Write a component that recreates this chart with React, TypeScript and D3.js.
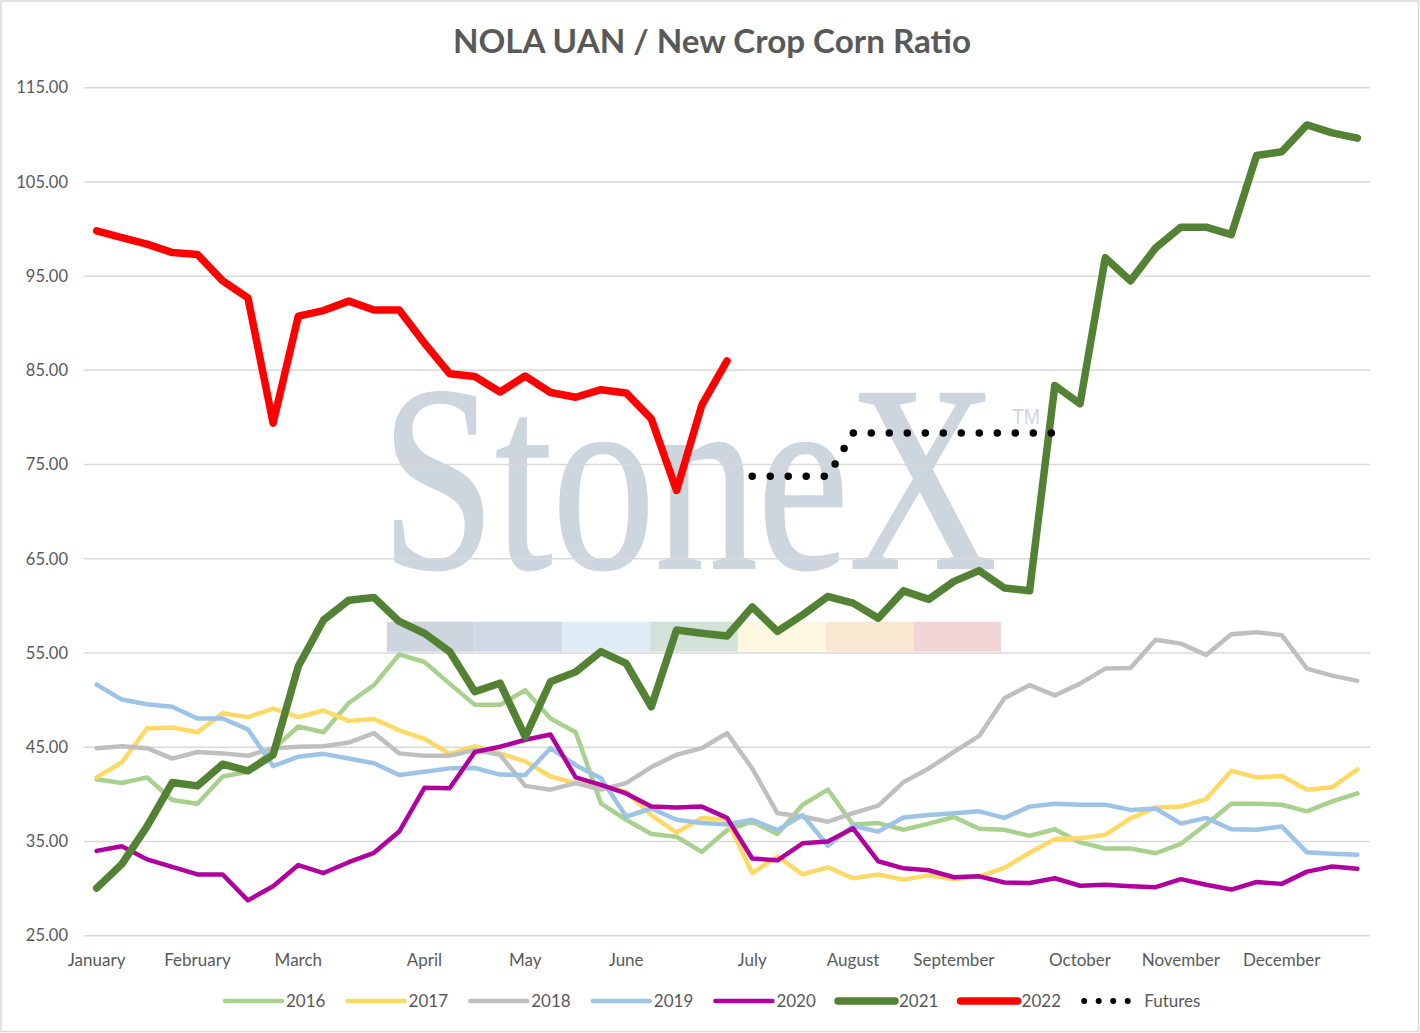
import React from "react";
import * as d3 from "d3";

const WIDTH = 1420;
const HEIGHT = 1033;

const monthLabels = ["January", "February", "March", "April", "May", "June", "July", "August", "September", "October", "November", "December"];
const monthWeek = [0, 4, 8, 13, 17, 21, 26, 30, 34, 39, 43, 47];
const yTicks = [25, 35, 45, 55, 65, 75, 85, 95, 105, 115];

const s2016 = [41.6, 41.2, 41.8, 39.4, 39.0, 41.9, 42.4, 44.8, 47.2, 46.6, 49.7, 51.6, 54.85, 54.05, 51.75, 49.5, 49.5, 51.05, 48.05, 46.6, 39.05, 37.3, 35.8, 35.5, 33.9, 36.2, 37.1, 35.8, 38.9, 40.5, 36.8, 36.95, 36.25, 36.9, 37.6, 36.35, 36.25, 35.6, 36.3, 34.9, 34.25, 34.25, 33.75, 34.75, 36.8, 39.0, 39.0, 38.9, 38.2, 39.25, 40.1];
const s2017 = [41.8, 43.4, 47.0, 47.1, 46.6, 48.6, 48.2, 49.1, 48.2, 48.9, 47.8, 48.0, 46.8, 45.9, 44.3, 45.1, 44.35, 43.5, 41.9, 41.2, 40.8, 40.3, 37.8, 35.95, 37.5, 37.3, 31.65, 33.4, 31.5, 32.25, 31.1, 31.5, 30.95, 31.4, 31.0, 31.3, 32.2, 33.8, 35.25, 35.35, 35.7, 37.45, 38.6, 38.7, 39.5, 42.5, 41.8, 41.95, 40.5, 40.75, 42.65];
const s2018 = [44.9, 45.1, 44.9, 43.8, 44.5, 44.35, 44.1, 44.9, 45.05, 45.1, 45.5, 46.5, 44.35, 44.1, 44.1, 44.7, 44.2, 40.9, 40.5, 41.2, 40.5, 41.2, 42.9, 44.2, 44.9, 46.5, 42.75, 38.0, 37.65, 37.1, 38.0, 38.8, 41.3, 42.75, 44.5, 46.2, 50.2, 51.6, 50.5, 51.75, 53.35, 53.4, 56.4, 56.0, 54.8, 57.0, 57.2, 56.9, 53.35, 52.6, 52.05];
const s2019 = [51.65, 50.06, 49.57, 49.3, 48.05, 48.05, 46.9, 43.0, 44.0, 44.3, 43.8, 43.3, 42.05, 42.4, 42.76, 42.8, 42.1, 42.05, 44.9, 43.1, 41.7, 37.65, 38.5, 37.3, 36.95, 36.8, 37.3, 36.2, 37.8, 34.55, 36.65, 36.05, 37.55, 37.8, 38.0, 38.2, 37.5, 38.7, 39.0, 38.9, 38.9, 38.35, 38.5, 36.9, 37.5, 36.3, 36.25, 36.6, 33.85, 33.7, 33.6];
const s2020 = [34.0, 34.5, 33.1, 32.3, 31.5, 31.5, 28.75, 30.25, 32.5, 31.65, 32.8, 33.8, 36.05, 40.7, 40.65, 44.5, 45.05, 45.8, 46.35, 41.8, 41.0, 40.1, 38.7, 38.6, 38.7, 37.5, 33.2, 33.0, 34.8, 35.0, 36.4, 32.9, 32.15, 31.95, 31.2, 31.3, 30.65, 30.6, 31.1, 30.3, 30.4, 30.25, 30.15, 31.0, 30.4, 29.9, 30.7, 30.5, 31.8, 32.35, 32.1];
const s2021 = [30.05, 32.6, 36.6, 41.25, 40.9, 43.2, 42.5, 44.2, 53.6, 58.5, 60.6, 60.9, 58.35, 57.1, 55.15, 50.9, 51.8, 46.1, 51.95, 53.0, 55.15, 53.9, 49.3, 57.45, 57.1, 56.8, 59.9, 57.3, 59.05, 61.0, 60.3, 58.7, 61.6, 60.7, 62.6, 63.75, 61.9, 61.6, 83.4, 81.45, 96.95, 94.5, 98.0, 100.2, 100.2, 99.4, 107.8, 108.2, 111.05, 110.2, 109.65];
const s2022 = [99.8, 99.1, 98.4, 97.5, 97.3, 94.5, 92.7, 79.4, 90.75, 91.35, 92.35, 91.4, 91.4, 87.9, 84.65, 84.35, 82.7, 84.4, 82.65, 82.15, 82.95, 82.6, 79.85, 72.25, 81.3, 86.0];
const futures = [null, null, null, null, null, null, null, null, null, null, null, null, null, null, null, null, null, null, null, null, null, null, null, null, null, null, 73.75, 73.75, 73.75, 73.75, 78.35, 78.35, 78.35, 78.35, 78.35, 78.35, 78.35, 78.35, 78.35];

const seriesNames = ["2016", "2017", "2018", "2019", "2020", "2021", "2022"];
const seriesValues: (number | null)[][] = [s2016, s2017, s2018, s2019, s2020, s2021, s2022];
const seriesColors = ["#A9D18E", "#FFD966", "#BFBFBF", "#9DC3E6", "#B0009E", "#548235", "#FF0000"];
const seriesWidths = [4.5, 4.5, 4.5, 4.5, 4.5, 7.5, 7.5];

const watermarkBands = ["#CED5DE", "#CFDAE6", "#E0ECF5", "#D3E2D9", "#FBF8DF", "#F9E7D1", "#F1D4D6"];

const FONT = "Lato, 'Open Sans', sans-serif";
const TEXT = "#595959";

export default function App() {
  const left = 84, right = 1370, top = 87.7, bottom = 935.7;
  const weeks = s2021.map((_, i) => i);
  const x = d3.scalePoint<number>().domain(weeks).range([left, right]).padding(0.5);
  const y = d3.scaleLinear().domain([25, 115]).range([bottom, top]);
  const line = d3
    .line<number | null>()
    .defined((d) => d != null)
    .x((_, i) => x(i) as number)
    .y((d) => y(d as number));

  const bandX = d3.scaleBand<number>().domain(d3.range(watermarkBands.length)).range([387, 1001]);

  const legendStart = 225;
  const legendStep = 122.6;

  return (
    <svg
      width={WIDTH}
      height={HEIGHT}
      style={{ position: "absolute", left: 0, top: 0, display: "block", background: "#fff" }}
      fontFamily={FONT}
    >
      <rect x={1} y={1} width={WIDTH - 2.5} height={HEIGHT - 2.5} fill="#fff" stroke="#D9D9D9" strokeWidth={1.5} />
      <text x={712} y={53} textAnchor="middle" fontSize={32} fontWeight="bold" fill={TEXT} textLength={518} lengthAdjust="spacingAndGlyphs">
        NOLA UAN / New Crop Corn Ratio
      </text>

      {/* watermark */}
      <g>
        <g transform="translate(381,568) scale(0.772,1)">
          <text
            x={0}
            y={0}
            fontFamily="'Liberation Serif', 'DejaVu Serif', serif"
            fontSize={266}
            fill="#CDD5DF"
            stroke="#CDD5DF"
            strokeWidth={2}
          >
            StoneX
          </text>
        </g>
        <text x={1012} y={424} fontFamily="'Liberation Sans', sans-serif" fontSize={22} fill="#CDD5DF" textLength={28} lengthAdjust="spacingAndGlyphs">
          TM
        </text>
        {watermarkBands.map((c, i) => (
          <rect key={i} x={bandX(i)} y={621.7} width={bandX.bandwidth()} height={30} fill={c} />
        ))}
      </g>

      {/* gridlines */}
      {yTicks.map((t) => (
        <line key={t} x1={left} x2={right} y1={y(t)} y2={y(t)} stroke="#D9D9D9" strokeWidth={1.5} />
      ))}
      {yTicks.map((t) => (
        <text key={"l" + t} x={68} y={y(t)} dy="0.35em" textAnchor="end" fontSize={16.5} fill={TEXT}>
          {t.toFixed(2)}
        </text>
      ))}
      {monthLabels.map((m, i) => (
        <text key={m} x={x(monthWeek[i]) as number} y={966} textAnchor="middle" fontSize={17} fill={TEXT}>
          {m}
        </text>
      ))}

      {/* series */}
      {seriesValues.map((vals, si) => (
        <path
          key={seriesNames[si]}
          d={line(vals) || ""}
          fill="none"
          stroke={seriesColors[si]}
          strokeWidth={seriesWidths[si]}
          strokeLinejoin="round"
          strokeLinecap="round"
        />
      ))}
      <path
        d={line(futures) || ""}
        fill="none"
        stroke="#000"
        strokeWidth={7.5}
        strokeLinecap="round"
        strokeDasharray="0 18"
      />

      {/* legend */}
      {seriesNames.map((n, i) => {
        const lx = legendStart + i * legendStep;
        return (
          <g key={"lg" + n}>
            <line x1={lx} x2={lx + 57} y1={1001} y2={1001} stroke={seriesColors[i]} strokeWidth={seriesWidths[i]} strokeLinecap="round" />
            <text x={lx + 61} y={1001} dy="0.35em" fontSize={17} fill={TEXT}>
              {n}
            </text>
          </g>
        );
      })}
      <g>
        <line
          x1={legendStart + 7 * legendStep + 1}
          x2={legendStart + 7 * legendStep + 46}
          y1={1001}
          y2={1001}
          stroke="#000"
          strokeWidth={6}
          strokeLinecap="round"
          strokeDasharray="0 14.5"
        />
        <text x={legendStart + 7 * legendStep + 61} y={1001} dy="0.35em" fontSize={17} fill={TEXT}>
          Futures
        </text>
      </g>
    </svg>
  );
}
